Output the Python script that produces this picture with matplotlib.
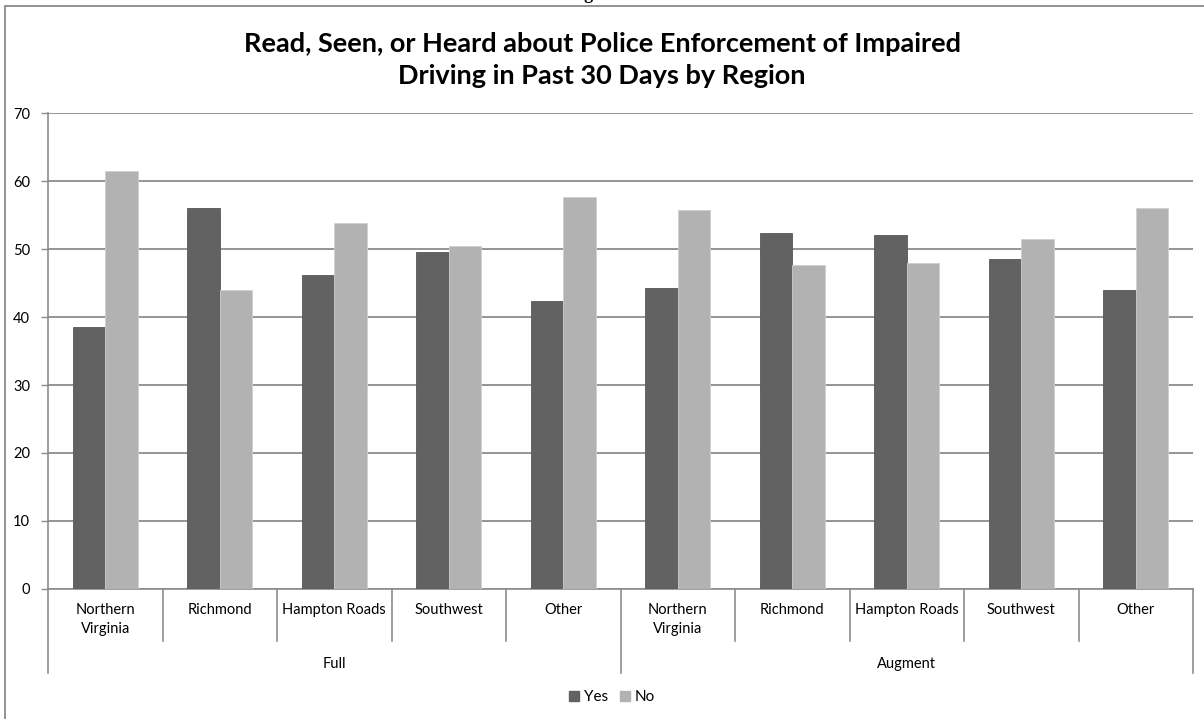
import matplotlib.pyplot as plt
import numpy as np
from matplotlib.patches import Rectangle, Patch
from matplotlib.transforms import blended_transform_factory

# survey results, percent of respondents
regions = ["Northern\nVirginia", "Richmond", "Hampton Roads", "Southwest", "Other"]
groups = ["Full", "Augment"]
yes_full = [38.6, 56.1, 46.2, 49.6, 42.3]
no_full = [61.4, 43.9, 53.8, 50.4, 57.7]
yes_augment = [44.3, 52.4, 52.0, 48.6, 44.0]
no_augment = [55.7, 47.6, 48.0, 51.4, 56.0]
yticks = [0, 10, 20, 30, 40, 50, 60, 70]

title = "Read, Seen, or Heard about Police Enforcement of Impaired\nDriving in Past 30 Days by Region"

W, H = 1204, 719
DARK = "#626262"
LIGHT = "#b2b2b2"
GRID = "#8c8c8c"
FONT = "Lato"

yes = yes_full + yes_augment
no = no_full + no_augment
labels = regions + regions
x = np.arange(len(labels))
bw = 1 / 3.5  # Excel gap width 150%

fig = plt.figure(figsize=(W / 100, H / 100), dpi=100)
fig.patch.set_facecolor("white")

# chart frame
fig.patches.append(Rectangle((5 / W, -0.05), 1.1, (H - 6) / H + 0.05,
                             transform=fig.transFigure, fill=False,
                             edgecolor="#7f7f7f", lw=1.2))

# caption sits above the frame, only its descenders show
fig.text(600 / W, 1 + 1 / H, "Figure 6", ha="center", va="baseline",
         family="Liberation Serif", weight="bold", fontsize=13)

left, right, top, bottom = 48, 1193, 113, 589
ax = fig.add_axes([left / W, (H - bottom) / H, (right - left) / W, (bottom - top) / H])
ax.bar(x - bw / 2, yes, bw, color=DARK, edgecolor="#575757", lw=0.6, label="Yes", zorder=3)
ax.bar(x + bw / 2, no, bw, color=LIGHT, edgecolor="#cfcfcf", lw=0.6, label="No", zorder=3)

ax.set_xlim(-0.5, len(labels) - 0.5)
ax.set_ylim(0, 70)
ax.set_yticks(yticks)
ax.set_yticklabels([str(t) for t in yticks], family=FONT, fontsize=10.5)
ax.yaxis.grid(True, color=GRID, lw=1.3, zorder=0)
ax.set_xticks([])
ax.tick_params(axis="y", length=5, width=1, color=GRID, pad=8)
for s in ["top", "right"]:
    ax.spines[s].set_visible(False)
ax.spines["left"].set_color(GRID)
ax.spines["bottom"].set_color(GRID)
ax.spines["left"].set_linewidth(1.2)
ax.spines["bottom"].set_linewidth(1.2)

# two-level category axis below the plot
ph = bottom - top
tr = blended_transform_factory(ax.transData, ax.transAxes)
def down(px):
    return -px / ph

for i in range(len(labels) + 1):
    depth = 84 if i in (0, 5, 10) else 52
    ax.plot([i - 0.5, i - 0.5], [0, down(depth)], transform=tr, color=GRID,
            lw=1.2, clip_on=False)
for i, lab in enumerate(labels):
    ax.text(i, down(14), lab, transform=tr, ha="center", va="top",
            family=FONT, fontsize=10.5, linespacing=1.45)
for g, name in enumerate(groups):
    ax.text(g * 5 + 2, down(68), name, transform=tr, ha="center", va="top",
            family=FONT, fontsize=10.5)

fig.text(602 / W, 1 - 60 / H, title, ha="center", va="center",
         family=FONT, weight="bold", fontsize=19.5, linespacing=1.45)

handles = [Patch(color=DARK, label="Yes"), Patch(color=LIGHT, label="No")]
fig.legend(handles=handles, loc="center", bbox_to_anchor=(612 / W, 1 - 697 / H),
           ncol=2, frameon=False, handlelength=0.65, handleheight=0.65,
           handletextpad=0.3, columnspacing=0.8, prop={"family": FONT, "size": 11})

fig.savefig("out.png", dpi=100)
